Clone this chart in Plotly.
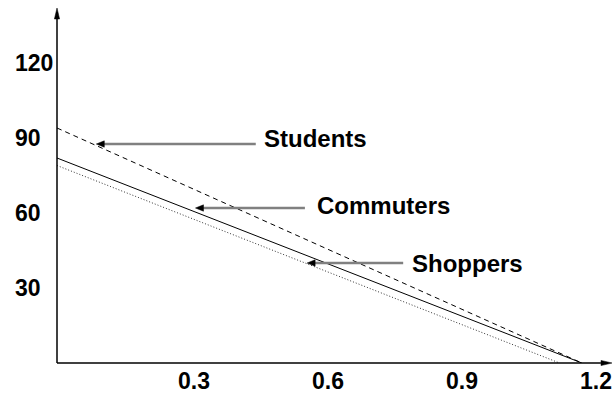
import plotly.graph_objects as go

# Demand lines for three rider groups (price on y, quantity on x)
students_x = [0.0, 1.175]
students_y = [94, 0]
commuters_x = [0.0, 1.175]
commuters_y = [82, 0]
shoppers_x = [0.0, 1.125]
shoppers_y = [79, 0]

x_ticks = [0.3, 0.6, 0.9, 1.2]
x_tick_text = ["0.3", "0.6", "0.9", "1.2"]
y_ticks = [30, 60, 90, 120]
y_tick_text = ["30", "60", "90", "120"]

# Callout labels: text anchor and arrow head/tail in data units
label_names = ["Students", "Commuters", "Shoppers"]
label_x = [0.46, 0.578, 0.79]
label_y = [90, 63, 40]
arrow_head_x = [0.088, 0.31, 0.56]
arrow_head_y = [87.6, 62, 40]
arrow_tail_x = [0.445, 0.555, 0.775]

FONT = "Liberation Sans, Arial, Helvetica, sans-serif"
BOLD = dict(family=FONT, color="black", weight="bold")

fig = go.Figure()
fig.add_trace(go.Scatter(x=students_x, y=students_y, mode="lines",
                         line=dict(color="black", width=1, dash="5px,4px"),
                         showlegend=False, hoverinfo="skip"))
fig.add_trace(go.Scatter(x=commuters_x, y=commuters_y, mode="lines",
                         line=dict(color="black", width=1),
                         showlegend=False, hoverinfo="skip"))
fig.add_trace(go.Scatter(x=shoppers_x, y=shoppers_y, mode="lines",
                         line=dict(color="#333333", width=1, dash="1px,2px"),
                         showlegend=False, hoverinfo="skip"))

annotations = []
shapes = []

# y tick labels, left aligned in the margin
for v, t in zip(y_ticks, y_tick_text):
    annotations.append(dict(x=0, xref="x domain", xshift=-44, xanchor="left",
                            y=v, yref="y", yanchor="middle", text=t,
                            showarrow=False, font=dict(size=23, **BOLD)))

# x tick labels under the axis
for v, t in zip(x_ticks, x_tick_text):
    annotations.append(dict(x=v, xref="x", xshift=3, xanchor="center",
                            y=0, yref="y domain", yshift=-18, yanchor="middle",
                            text=t, showarrow=False, font=dict(size=23, **BOLD)))

# callout shafts, heads and labels
for name, lx, ly, hx, hy, tx in zip(label_names, label_x, label_y,
                                    arrow_head_x, arrow_head_y, arrow_tail_x):
    shapes.append(dict(type="line", xref="x", yref="y", x0=hx + 0.01, x1=tx,
                       y0=hy, y1=hy, line=dict(color="#808080", width=2.5)))
    shapes.append(dict(type="path", xref="x", yref="y",
                       xsizemode="pixel", ysizemode="pixel",
                       xanchor=hx, yanchor=hy,
                       path="M0,0 L8,3.2 L8,-3.2 Z",
                       fillcolor="black", line=dict(color="black", width=0.5)))
    annotations.append(dict(x=lx, y=ly, xref="x", yref="y", xanchor="left",
                            yanchor="middle", text=name, showarrow=False,
                            font=dict(size=24, **BOLD)))

# axis lines ending in arrow heads
shapes.append(dict(type="line", xref="x domain", yref="y domain",
                   x0=0, x1=0, y0=0, y1=0.97, line=dict(color="black", width=1.5)))
shapes.append(dict(type="line", xref="x domain", yref="y domain",
                   x0=0, x1=0.98, y0=0, y1=0, line=dict(color="black", width=1.5)))
shapes.append(dict(type="path", xref="x domain", yref="y domain",
                   xsizemode="pixel", ysizemode="pixel", xanchor=0, yanchor=1,
                   path="M0,0 L-2.6,-11 L2.6,-11 Z",
                   fillcolor="black", line=dict(color="black", width=0.5)))
shapes.append(dict(type="path", xref="x domain", yref="y domain",
                   xsizemode="pixel", ysizemode="pixel", xanchor=1, yanchor=0,
                   path="M0,0 L-11,2.6 L-11,-2.6 Z",
                   fillcolor="black", line=dict(color="black", width=0.5)))

fig.update_layout(
    width=612, height=396,
    margin=dict(l=57, r=0, t=8, b=33, pad=0),
    paper_bgcolor="white", plot_bgcolor="white",
    annotations=annotations, shapes=shapes,
    xaxis=dict(range=[0, 1.2425], showticklabels=False,
               showgrid=False, zeroline=False, showline=False, ticks=""),
    yaxis=dict(range=[0, 142], showticklabels=False,
               showgrid=False, zeroline=False, showline=False, ticks=""),
)

fig.write_html("out.html")
